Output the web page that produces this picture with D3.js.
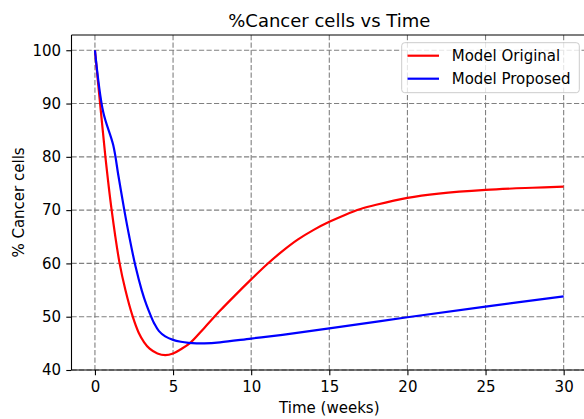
<!DOCTYPE html>
<html>
<head>
<meta charset="utf-8">
<script src="https://cdn.jsdelivr.net/npm/d3@7"></script>
<style>
body { margin: 0; background: #fff; }
svg { display: block; font-family: "DejaVu Sans", sans-serif; }
</style>
</head>
<body>
<svg id="chart" width="584" height="419"></svg>
<script>
const title = "%Cancer cells vs Time";
const xLabel = "Time (weeks)";
const yLabel = "% Cancer cells";
const xTicks = [0, 5, 10, 15, 20, 25, 30];
const yTicks = [40, 50, 60, 70, 80, 90, 100];
const seriesNames = ["Model Original", "Model Proposed"];
const seriesColors = ["#ff0000", "#0000ff"];

const originalT = [0, 0.33, 0.67, 1.07, 1.58, 1.95, 2.42, 2.8, 3.15, 3.5, 4.0, 4.5, 5.0, 5.5, 6.1, 7, 8, 9, 10, 11, 12, 13, 14, 15, 16, 17, 18, 20, 22, 25, 28, 30];
const originalV = [100, 90, 80, 70, 60, 55, 50, 47, 45.2, 44.0, 43.1, 42.8, 43.1, 43.9, 45.1, 47.9, 51.1, 54.1, 57.0, 59.8, 62.3, 64.5, 66.3, 67.8, 69.1, 70.2, 71.0, 72.3, 73.1, 73.8, 74.2, 74.4];

const proposedT = [0, 0.53, 1.17, 1.5, 1.88, 2.2, 2.6, 3.0, 3.3, 3.57, 3.8, 4.1, 4.5, 5.0, 5.5, 6.0, 6.5, 7.0, 8, 10, 12, 15, 20, 25, 30];
const proposedV = [100, 88.4, 82.2, 76.5, 70, 65, 59.4, 54.9, 52.2, 50.2, 48.7, 47.3, 46.3, 45.65, 45.3, 45.1, 45.0, 45.0, 45.2, 45.9, 46.6, 47.8, 49.9, 51.9, 53.8];

const svg = d3.select("#chart");
const mLeft = 71.5, mRight = 587.1, mTop = 35, mBottom = 370;
const x = d3.scaleLinear().domain([-1.5, 31.5]).range([mLeft, mRight]);
const y = d3.scaleLinear().domain([40, 102.86]).range([mBottom, mTop]);
const fs = 15;

svg.append("defs").append("clipPath").attr("id", "clip")
  .append("rect").attr("x", mLeft).attr("y", mTop).attr("width", mRight - mLeft).attr("height", mBottom - mTop);

// grid
const grid = svg.append("g");
grid.selectAll(".vg").data(xTicks).join("line")
  .attr("x1", d => x(d)).attr("x2", d => x(d)).attr("y1", mTop).attr("y2", mBottom)
  .attr("stroke", "#808080").attr("stroke-width", 1.1).attr("stroke-dasharray", "5.2,2.3");
grid.selectAll(".hg").data(yTicks).join("line")
  .attr("y1", d => y(d)).attr("y2", d => y(d)).attr("x1", mLeft).attr("x2", mRight)
  .attr("stroke", "#808080").attr("stroke-width", 1.1).attr("stroke-dasharray", "5.2,2.3");

// lines
const line = d3.line().x(d => x(d[0])).y(d => y(d[1])).curve(d3.curveCatmullRom.alpha(0.5));
const series = [
  d3.zip(originalT, originalV),
  d3.zip(proposedT, proposedV)
];
const lg = svg.append("g").attr("clip-path", "url(#clip)");
series.forEach((s, i) => {
  lg.append("path").datum(s).attr("d", line)
    .attr("fill", "none").attr("stroke", seriesColors[i]).attr("stroke-width", 2.2)
    .attr("stroke-linejoin", "round").attr("stroke-linecap", "butt");
});

// axes
const xAxis = d3.axisBottom(x).tickValues(xTicks).tickSize(5.2).tickPadding(6).tickFormat(d3.format("d"));
const yAxis = d3.axisLeft(y).tickValues(yTicks).tickSize(5.2).tickPadding(5.2).tickFormat(d3.format("d"));
const gx = svg.append("g").attr("transform", `translate(0,${mBottom})`).call(xAxis);
const gy = svg.append("g").attr("transform", `translate(${mLeft},0)`).call(yAxis);
[gx, gy].forEach(g => {
  g.select(".domain").remove();
  g.selectAll(".tick line").attr("stroke", "#000").attr("stroke-width", 1.1);
  g.selectAll(".tick text").attr("font-size", fs).attr("fill", "#000").attr("font-family", "DejaVu Sans");
});

// spines
svg.append("line").attr("x1", mLeft).attr("x2", mLeft).attr("y1", mTop).attr("y2", mBottom).attr("stroke", "#000").attr("stroke-width", 1.1);
svg.append("line").attr("x1", mLeft).attr("x2", mRight).attr("y1", mBottom).attr("y2", mBottom).attr("stroke", "#000").attr("stroke-width", 1.1);
svg.append("line").attr("x1", mLeft).attr("x2", mRight).attr("y1", mTop).attr("y2", mTop).attr("stroke", "#000").attr("stroke-width", 1.1);

// labels
svg.append("text").attr("x", (mLeft + mRight) / 2).attr("y", 26.7).attr("text-anchor", "middle")
  .attr("font-size", 18).text(title);
svg.append("text").attr("x", (mLeft + mRight) / 2).attr("y", 412.5).attr("text-anchor", "middle")
  .attr("font-size", fs).text(xLabel);
svg.append("text").attr("transform", `translate(23.5,${(mTop + mBottom) / 2}) rotate(-90)`).attr("text-anchor", "middle")
  .attr("font-size", fs).text(yLabel);

// legend
const leg = svg.append("g");
leg.append("rect").attr("x", 401.7).attr("y", 42.7).attr("width", 177.6).attr("height", 50)
  .attr("rx", 3).attr("fill", "#fff").attr("fill-opacity", 0.8).attr("stroke", "#cccccc").attr("stroke-width", 1);
seriesNames.forEach((n, i) => {
  const yy = 55.7 + i * 23;
  leg.append("line").attr("x1", 407.5).attr("x2", 439).attr("y1", yy).attr("y2", yy)
    .attr("stroke", seriesColors[i]).attr("stroke-width", 2.2);
  leg.append("text").attr("x", 451.7).attr("y", yy + 5.6).attr("font-size", fs).text(n);
});
</script>
</body>
</html>
